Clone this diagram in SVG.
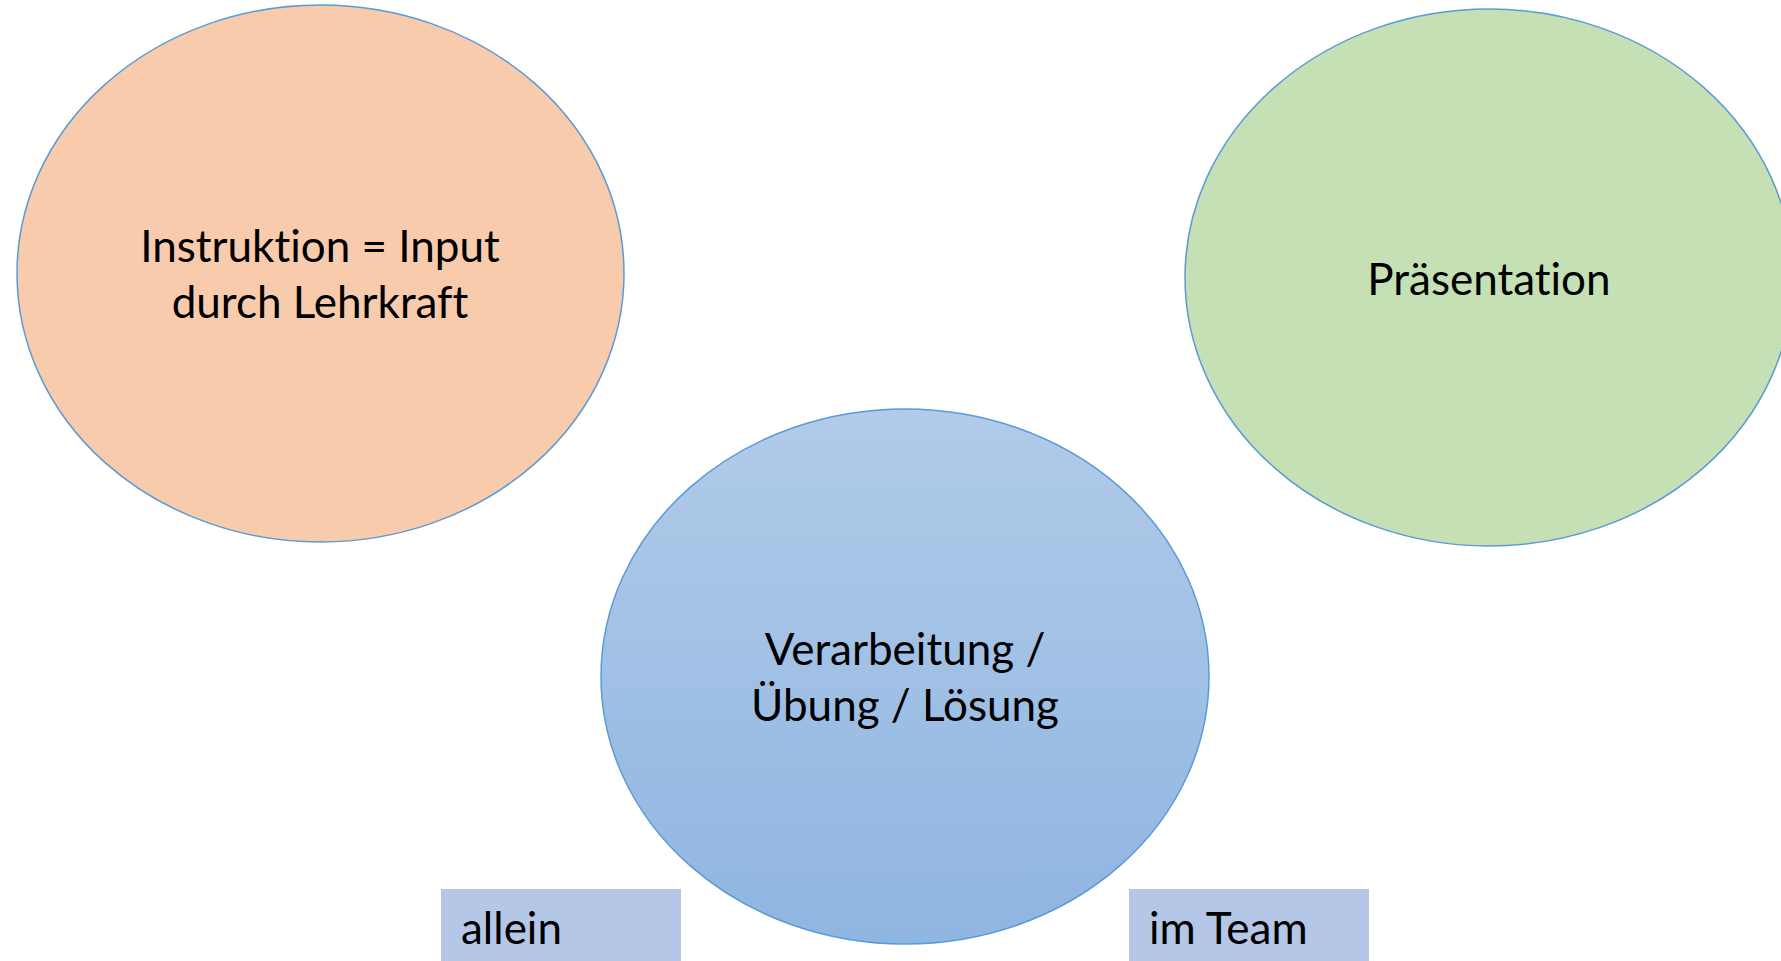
<svg xmlns="http://www.w3.org/2000/svg" width="1781" height="961" viewBox="0 0 1781 961">
  <defs>
    <linearGradient id="blueGrad" x1="0" y1="0" x2="0" y2="1">
      <stop offset="0" stop-color="#B1CBE9"/>
      <stop offset="1" stop-color="#8FB5E1"/>
    </linearGradient>
  </defs>
  <style>
    .shape { stroke: #5B9BD5; stroke-width: 1.5; }
    .lbl { font-family: Lato, "Open Sans", "Liberation Sans", sans-serif; font-size: 44px; fill: #000000; font-variant-ligatures: none; font-feature-settings: "liga" 0, "clig" 0; }
    .mid { text-anchor: middle; }
    .box { fill: #B4C7E7; }
  </style>
  <rect width="1781" height="961" fill="#FFFFFF"/>
  <g id="connectors"></g>
  <g id="node-instruktion">
    <ellipse class="shape" cx="320.5" cy="273.5" rx="303.5" ry="268.5" fill="#F7CBAC"/>
    <text class="lbl mid" x="320" y="262">Instruktion = Input</text>
    <text class="lbl mid" x="320" y="318">durch Lehrkraft</text>
  </g>
  <g id="node-praesentation">
    <ellipse class="shape" cx="1489" cy="277.5" rx="304" ry="268.5" fill="#C5E0B4"/>
    <text class="lbl mid" x="1489" y="295">Präsentation</text>
  </g>
  <g id="node-verarbeitung">
    <ellipse class="shape" cx="905" cy="676.5" rx="304" ry="267.5" fill="url(#blueGrad)"/>
    <text class="lbl mid" x="905" y="665">Verarbeitung /</text>
    <text class="lbl mid" x="905" y="721">Übung / Lösung</text>
  </g>
  <g id="node-allein">
    <rect class="box" x="441" y="889" width="240" height="72"/>
    <text class="lbl" x="461" y="944">allein</text>
  </g>
  <g id="node-team">
    <rect class="box" x="1129" y="889" width="240" height="72"/>
    <text class="lbl" x="1149" y="944">im Team</text>
  </g>
</svg>
